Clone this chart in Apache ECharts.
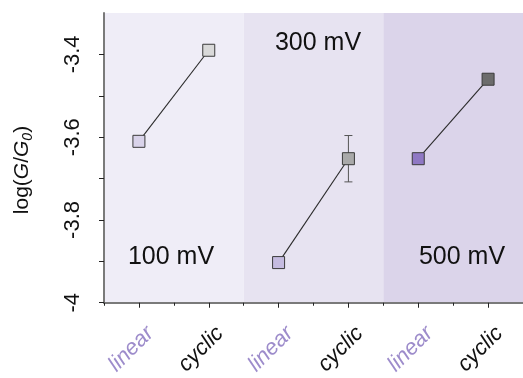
<!DOCTYPE html>
<html>
<head>
<meta charset="utf-8">
<script src="https://cdn.jsdelivr.net/npm/echarts@6/dist/echarts.min.js"></script>
<style>
html,body{margin:0;padding:0;background:#fff;}
#c{width:523px;height:378px;}
</style>
</head>
<body>
<div id="c"></div>
<script>
// ---- data ----
const categories = ['linear', 'cyclic', 'linear', 'cyclic', 'linear', 'cyclic'];
const groupNames = ['100 mV', '300 mV', '500 mV'];
const logG = [-3.61, -3.39, -3.903, -3.652, -3.652, -3.46];
const errs = [0, 0, 0.012, 0.056, 0, 0];
const yTicks = [-4, -3.8, -3.6, -3.4];
const yTickMarks = [-4, -3.9, -3.8, -3.7, -3.6, -3.5, -3.4];

// ---- styles ----
const FONT = '"Liberation Sans", Arial, Helvetica, sans-serif';
const markerColors = ['#d9d3ea', '#d9d9d9', '#c5bbe0', '#a9a9a9', '#8f78c4', '#6c6c6c'];
const bandColors = ['#efedf7', '#e7e3f1', '#dbd4ea'];

const chart = echarts.init(document.getElementById('c'), null, {renderer: 'canvas'});

const lineSeries = groupNames.map((g, gi) => ({
  type: 'line',
  name: g,
  xAxisIndex: 0,
  z: 5,
  symbol: 'rect',
  symbolSize: 12,
  lineStyle: {color: '#2a2a2a', width: 1.1},
  data: [0, 1].map(k => {
    const i = gi * 2 + k;
    return {
      value: [i, logG[i]],
      itemStyle: {color: markerColors[i], borderColor: '#3a3a3a', borderWidth: 1}
    };
  }),
  animation: false
}));

const bandData = groupNames.map((g, gi) => [gi * 2, gi * 2 + 1, gi]);

const bandSeries = {
  type: 'custom',
  xAxisIndex: 0,
  z: 0,
  silent: true,
  data: bandData,
  renderItem: function (params, api) {
    const s = api.value(0), e = api.value(1), gi = api.value(2);
    const w = api.size([1, 0])[0];
    const p0 = api.coord([s, -4]);
    const p1 = api.coord([e, -4]);
    const cs = params.coordSys;
    return {
      type: 'rect',
      shape: {x: p0[0] - w / 2, y: cs.y, width: p1[0] - p0[0] + w, height: cs.height},
      style: {fill: bandColors[gi]}
    };
  },
  animation: false
};

const errData = logG.map((v, i) => [i, v, errs[i]]).filter(d => d[2] > 0);
const errSeries = {
  type: 'custom',
  xAxisIndex: 0,
  z: 3,
  silent: true,
  data: errData,
  renderItem: function (params, api) {
    const x = api.value(0), v = api.value(1), e = api.value(2);
    const lo = api.coord([x, v - e]);
    const hi = api.coord([x, v + e]);
    const cw = 4;
    const st = {stroke: '#555', lineWidth: 1};
    return {
      type: 'group',
      children: [
        {type: 'line', shape: {x1: lo[0], y1: lo[1], x2: hi[0], y2: hi[1]}, style: st},
        {type: 'line', shape: {x1: lo[0] - cw, y1: lo[1], x2: lo[0] + cw, y2: lo[1]}, style: st},
        {type: 'line', shape: {x1: hi[0] - cw, y1: hi[1], x2: hi[0] + cw, y2: hi[1]}, style: st}
      ]
    };
  },
  animation: false
};

const groupLabel = (txt, x, y) => ({
  type: 'text', x: x, y: y, z: 100,
  style: {text: txt, fontSize: 25, fontFamily: FONT, fill: '#111', align: 'center', verticalAlign: 'middle'}
});

const option = {
  animation: false,
  backgroundColor: '#fff',
  textStyle: {fontFamily: FONT},
  grid: {left: 104, right: -7, top: 13, bottom: 75, containLabel: false},
  xAxis: [
    {
      type: 'category',
      data: categories,
      boundaryGap: true,
      axisLine: {show: true, lineStyle: {color: '#7a7a7a', width: 2}},
      axisTick: {show: true, alignWithLabel: true, length: 5, lineStyle: {color: '#222', width: 1}},
      axisLabel: {
        rotate: 45, margin: 16, interval: 0,
        formatter: function (v) { return '{' + (v === 'linear' ? 'l' : 'c') + '|' + v + '}'; },
        rich: {
          l: {fontSize: 22, fontStyle: 'italic', fontFamily: FONT, color: '#9d8ccb', lineHeight: 54, verticalAlign: 'bottom'},
          c: {fontSize: 22, fontStyle: 'italic', fontFamily: FONT, color: '#111', lineHeight: 54, verticalAlign: 'bottom'}
        }
      },
      splitLine: {show: false}
    },
    {
      type: 'category',
      data: categories,
      boundaryGap: true,
      position: 'bottom',
      axisLine: {show: false},
      axisTick: {show: true, alignWithLabel: false, length: 3, interval: 0, lineStyle: {color: '#222', width: 1}},
      axisLabel: {show: false},
      splitLine: {show: false}
    }
  ],
  yAxis: {
    type: 'value',
    min: -4,
    max: -3.3,
    interval: 0.1,
    axisLine: {show: true, lineStyle: {color: '#7a7a7a', width: 2}},
    axisTick: {show: true, length: 5, customValues: yTickMarks, lineStyle: {color: '#222', width: 1}},
    splitLine: {show: false},
    axisLabel: {
      rotate: 90,
      fontSize: 22,
      color: '#111',
      fontFamily: FONT,
      margin: 20,
      formatter: function (v) {
        const r = Math.round(v * 10) / 10;
        return yTicks.some(t => Math.abs(t - r) < 1e-6) ? String(r) : '';
      }
    }
  },
  graphic: {
    elements: [
      {
        type: 'text',
        x: 22, y: 170, z: 100,
        rotation: Math.PI / 2,
        style: {
          text: '{n|log(}{i|G}{n|/}{i|G}{s|0}{n|)}',
          align: 'center', verticalAlign: 'middle',
          rich: {
            n: {fontSize: 21, fontFamily: FONT, fill: '#111', lineHeight: 26},
            i: {fontSize: 21, fontFamily: FONT, fontStyle: 'italic', fill: '#111', lineHeight: 26},
            s: {fontSize: 14, fontFamily: FONT, fontStyle: 'italic', fill: '#111', lineHeight: 26, verticalAlign: 'bottom', padding: [10, 0, 0, 0]}
          }
        }
      },
      groupLabel(groupNames[0], 171, 257),
      groupLabel(groupNames[1], 318, 43),
      groupLabel(groupNames[2], 462, 257)
    ]
  },
  series: [bandSeries, errSeries].concat(lineSeries)
};

chart.setOption(option);
</script>
</body>
</html>
